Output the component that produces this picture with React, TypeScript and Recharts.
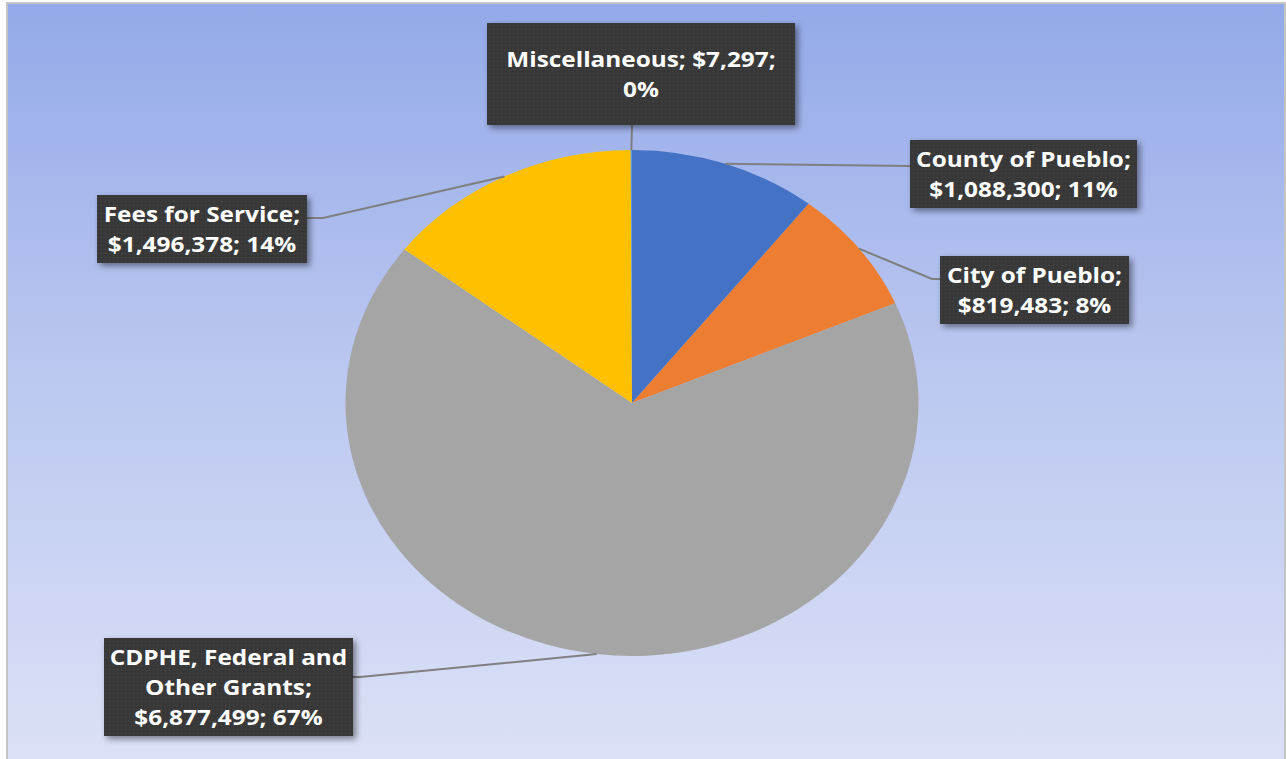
import React from "react";
import { PieChart, Pie, Cell } from "recharts";

const categories = [
  "County of Pueblo",
  "City of Pueblo",
  "CDPHE, Federal and Other Grants",
  "Fees for Service",
  "Miscellaneous",
];
const amounts = [1088300, 819483, 6877499, 1496378, 7297];
const shareLabels = ["11%", "8%", "67%", "14%", "0%"];
const sliceColors = ["#4472C4", "#ED7D31", "#A5A5A5", "#FFC000", "#5B9BD5"];

const data = categories.map((name, i) => ({ name, value: amounts[i] }));

// pie is an ellipse in the source picture
const CX = 632;
const CY = 403;
const RY = 253;
const SCALE_X = 286.5 / 253;
const TEXT_SX = 1.16;
const RAD = Math.PI / 180;

// label boxes (page coords) and where the leader line meets them
const boxes = [
  { x: 910, y: 140, w: 227, h: 68, ax: 910, ay: 166, ex: 910, ey: 166 },
  { x: 940, y: 256, w: 189, h: 68, ax: 940, ay: 279, ex: 932, ey: 279 },
  { x: 104, y: 638, w: 249, h: 98, ax: 353, ay: 677, ex: 360, ey: 677 },
  { x: 97, y: 195, w: 210, h: 68, ax: 307, ay: 218, ex: 323, ey: 218 },
  { x: 487, y: 23, w: 308, h: 102, ax: 632, ay: 125, ex: 632, ey: 125 },
];

const money = (v: number) => "$" + v.toLocaleString("en-US");

const linesFor = (i: number): string[] => {
  const name = categories[i];
  const tail = `${money(amounts[i])}; ${shareLabels[i]}`;
  if (i === 4) return [`${name}; ${money(amounts[i])};`, shareLabels[i]];
  if (i === 2) {
    const w = name.split(" ");
    return [w.slice(0, 3).join(" "), w.slice(3).join(" ") + ";", tail];
  }
  return [`${name};`, tail];
};

const pt = (cx: number, cy: number, r: number, a: number) => [
  cx + r * SCALE_X * Math.cos(a * RAD),
  cy - r * Math.sin(a * RAD),
];

const EllipseSector = (props: any) => {
  const { cx, cy, outerRadius, startAngle, endAngle, fill } = props;
  const [x1, y1] = pt(cx, cy, outerRadius, startAngle);
  const [x2, y2] = pt(cx, cy, outerRadius, endAngle);
  const large = Math.abs(endAngle - startAngle) > 180 ? 1 : 0;
  const sweep = startAngle > endAngle ? 1 : 0;
  return (
    <path
      d={`M${cx},${cy} L${x1},${y1} A${outerRadius * SCALE_X},${outerRadius} 0 ${large} ${sweep} ${x2},${y2} Z`}
      fill={fill}
      stroke="none"
    />
  );
};

const renderLabel = (props: any) => {
  const { cx, cy, outerRadius, midAngle, index } = props;
  const b = boxes[index];
  const [px, py] = pt(cx, cy, outerRadius, midAngle);
  const lines = linesFor(index);
  const lh = 30;
  const first = b.y + b.h / 2 - ((lines.length - 1) * lh) / 2 + 8;
  const mid = b.x + b.w / 2;
  return (
    <g key={`lbl-${index}`}>
      <polyline
        points={`${px},${py} ${b.ex},${b.ey} ${b.ax},${b.ay}`}
        fill="none"
        stroke="#7f7f7f"
        strokeWidth={2}
      />
      <rect
        x={b.x}
        y={b.y}
        width={b.w}
        height={b.h}
        fill="url(#dots)"
        filter="url(#boxShadow)"
      />
      <text
        transform={`translate(${mid},0) scale(${TEXT_SX},1) translate(${-mid},0)`}
        x={mid}
        textAnchor="middle"
        fill="#ffffff"
        fontFamily="'Open Sans', sans-serif"
        fontWeight={700}
        fontSize={21}
      >
        {lines.map((t, k) => (
          <tspan key={k} x={mid} y={first + k * lh}>
            {t}
          </tspan>
        ))}
      </text>
    </g>
  );
};

export default function App() {
  return (
    <div
      style={{
        position: "absolute",
        left: 0,
        top: 0,
        width: 1286,
        height: 759,
        background: "#ffffff",
        overflow: "hidden",
      }}
    >
      <svg width={0} height={0} style={{ position: "absolute" }}>
        <defs>
          <pattern id="dots" width={4} height={4} patternUnits="userSpaceOnUse">
            <rect width={4} height={4} fill="#383838" />
            <rect x={1} y={1} width={1} height={1} fill="#4a4a4a" />
          </pattern>
          <filter id="boxShadow" x="-10%" y="-20%" width="125%" height="150%">
            <feDropShadow dx={3} dy={3} stdDeviation={3} floodColor="#000" floodOpacity={0.45} />
          </filter>
        </defs>
      </svg>
      <div
        style={{
          position: "absolute",
          left: 6,
          top: 2,
          width: 1280,
          height: 780,
          boxSizing: "border-box",
          border: "2px solid #c4c4c4",
          background: "linear-gradient(to bottom, #93a9e9 0%, #b9c6ef 45%, #dde2f7 100%)",
        }}
      />
      <div style={{ position: "absolute", left: 0, top: 0 }}>
        <PieChart width={1286} height={759} margin={{ top: 0, right: 0, bottom: 0, left: 0 }}>
          <Pie
            data={data}
            dataKey="value"
            nameKey="name"
            cx={CX}
            cy={CY}
            outerRadius={RY}
            startAngle={90}
            endAngle={-270}
            stroke="none"
            shape={EllipseSector}
            activeShape={EllipseSector}
            label={renderLabel}
            labelLine={false}
            isAnimationActive={false}
          >
            {data.map((d, i) => (
              <Cell key={d.name} fill={sliceColors[i]} />
            ))}
          </Pie>
        </PieChart>
      </div>
    </div>
  );
}
